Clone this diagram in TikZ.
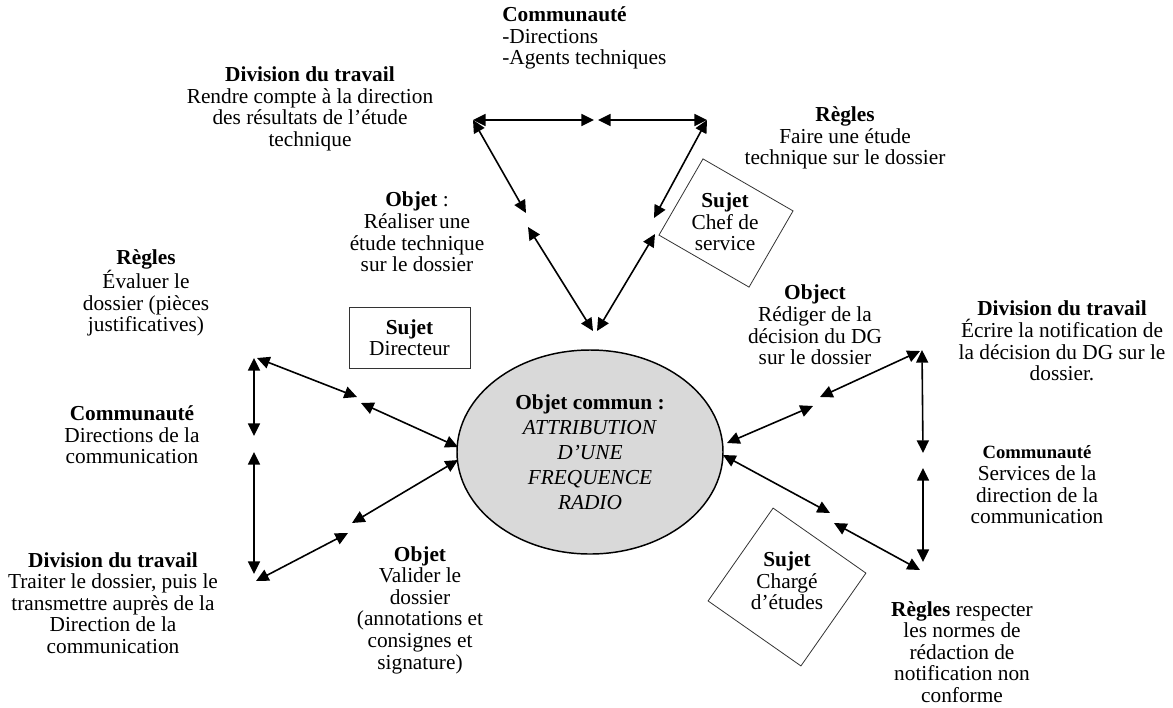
\documentclass[tikz,border=0pt]{standalone}
\usepackage{fontspec}
\setmainfont{Liberation Serif}
\usetikzlibrary{arrows.meta,shapes.geometric}
\definecolor{ellfill}{RGB}{217,217,217}
\begin{document}
\begin{tikzpicture}[x=0.75pt,y=-0.75pt,
  lbl/.style={align=center, inner sep=0pt, font=\fontsize{16}{16.2}\selectfont},
  conn/.style={{Triangle[length=9.5pt,width=9pt]}-{Triangle[length=9.5pt,width=9pt]}, line width=1.2pt},
  boxr/.style={draw=black!80, line width=0.6pt, inner sep=0pt},
  ell/.style={ellipse, draw, line width=1.1pt, fill=ellfill, inner sep=0pt, align=center,
     minimum width=199.5pt, minimum height=153pt, font=\fontsize{16}{18.8}\selectfont}
]
\useasboundingbox (0,0) rectangle (1173,707);

% central object
\node[ell] (obj) at (590,452) {\textbf{Objet commun :}\\\textit{ATTRIBUTION}\\\textit{D’UNE}\\\textit{FREQUENCE}\\\textit{RADIO}};

% boxes
\node[boxr, minimum width=90.75pt, minimum height=45.75pt, align=center, font=\fontsize{16}{16.2}\selectfont] (dir) at (409.5,337.5) {\textbf{Sujet}\\Directeur};
\node[boxr, rotate=-30, minimum width=78pt, minimum height=66pt] (chefbox) at (726,223) {};
\node[lbl] (chef) at (725,222) {\textbf{Sujet}\\Chef de\\service};
\node[boxr, rotate=-35, minimum width=85pt, minimum height=85pt] (chbox) at (787,587) {};
\node[lbl] (charge) at (787,581) {\textbf{Sujet}\\Chargé\\d’études};

% labels
\node[lbl, align=left, anchor=west] (comtop) at (502,38) {\textbf{Communauté}\\-Directions\\-Agents techniques};
\node[lbl] (divtop) at (310,109) {\textbf{Division du travail}\\Rendre compte à la direction\\des résultats de l’étude\\technique};
\node[lbl] (regtop) at (845,138) {\textbf{Règles}\\Faire une étude\\technique sur le dossier};
\node[lbl] (objtop) at (417,232) {\textbf{Objet} :\\Réaliser une\\étude technique\\sur le dossier};
\node[lbl] (regleft) at (146,293) {\textbf{Règles}\\Évaluer le\\dossier (pièces\\justificatives)};
\node[lbl] (comleft) at (132,435) {\textbf{Communauté}\\Directions de la\\communication};
\node[lbl] (divleft) at (113,603) {\textbf{Division du travail}\\Traiter le dossier, puis le\\transmettre auprès de la\\Direction de la\\communication};
\node[lbl] (objleft) at (420,610) {\textbf{Objet}\\Valider le\\dossier\\(annotations et\\consignes et\\signature)};
\node[lbl] (objright) at (815,325) {\textbf{Object}\\Rédiger de la\\décision du DG\\sur le dossier};
\node[lbl] (divright) at (1062,341) {\textbf{Division du travail}\\Écrire la notification de\\la décision du DG sur le\\dossier.};
\node[lbl] (comright) at (1037,485) {{\fontsize{14}{16.2}\selectfont\textbf{Communauté}}\\Services de la\\direction de la\\communication};
\node[lbl] (regright) at (962,652) {\textbf{Règles} respecter\\les normes de\\rédaction de\\notification non\\conforme};

% top triangle
\coordinate (ta) at (473,120);
\coordinate (tm1) at (594,120);
\coordinate (tm2) at (598,120);
\coordinate (tb) at (707,120);
\coordinate (tl1) at (526,213);
\coordinate (tl2) at (528,227);
\coordinate (tr1) at (654,218);
\coordinate (tr2) at (655,234);
\coordinate (tc1) at (593,331);
\coordinate (tc2) at (597,331);
\draw[conn] (ta) -- (tm1);
\draw[conn] (tm2) -- (tb);
\draw[conn] (ta) -- (tl1);
\draw[conn] (tl2) -- (tc1);
\draw[conn] (tb) -- (tr1);
\draw[conn] (tr2) -- (tc2);

% left triangle
\coordinate (la) at (254,358);
\coordinate (la2) at (257,358);
\coordinate (lm1) at (254,436);
\coordinate (lm2) at (254,452);
\coordinate (lb) at (254,574);
\coordinate (lb2) at (256,581);
\coordinate (lu1) at (357,397);
\coordinate (lu2) at (361,403);
\coordinate (lo1) at (458,447);
\coordinate (lo2) at (458,460);
\coordinate (ld1) at (352,523);
\coordinate (ld2) at (348,533);
\draw[conn] (la) -- (lm1);
\draw[conn] (lm2) -- (lb);
\draw[conn] (la2) -- (lu1);
\draw[conn] (lu2) -- (lo1);
\draw[conn] (lo2) -- (ld1);
\draw[conn] (ld2) -- (lb2);

% right triangle
\coordinate (ra) at (920,351);
\coordinate (ra2) at (922,350);
\coordinate (ru1) at (820,397);
\coordinate (ru2) at (813,406);
\coordinate (ro1) at (727,443);
\coordinate (ro2) at (723,455);
\coordinate (rd1) at (830,513);
\coordinate (rd2) at (834,523);
\coordinate (rb) at (920,570);
\coordinate (rb2) at (923,562);
\coordinate (rm1) at (923,453);
\coordinate (rm2) at (923,468);
\draw[conn] (ra) -- (ru1);
\draw[conn] (ru2) -- (ro1);
\draw[conn] (ro2) -- (rd1);
\draw[conn] (rd2) -- (rb);
\draw[conn] (ra2) -- (rm1);
\draw[conn] (rm2) -- (rb2);
\end{tikzpicture}
\end{document}
